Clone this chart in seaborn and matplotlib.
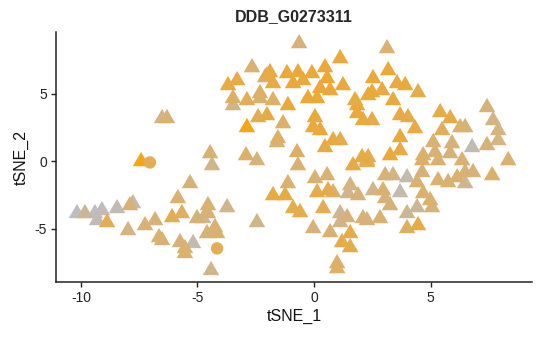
import numpy as np
import pandas as pd
import matplotlib
matplotlib.use("Agg")
import matplotlib.pyplot as plt
import seaborn as sns
from matplotlib.colors import LinearSegmentedColormap

# ---- data ----
tsne1 = [
    -10.17, -9.83, -9.40, -9.10, -9.31, -8.88, -8.45, -7.90, -7.77, -7.98,
    -7.25, -6.82, -6.65, -6.52, -6.09, -5.67, -5.84, -5.32, -5.02, -4.76,
    -4.55, -4.55, -4.59, -4.25, -4.16, -5.75, -5.54, -5.54, -5.19, -3.73,
    -4.42, -2.45, -7.42, -6.52, -6.31, -4.46, -4.38,
    -2.66, -3.69, -3.30, -3.48, -3.48, -2.88, -2.32, -2.32, -2.02, -1.89,
    -2.40, -2.02, -2.88, -2.92, -2.45, -1.76, -1.76, -2.10, -1.33, -1.59,
    -0.64, -1.16, -0.69, -0.09, 0.47, -0.90, -0.47, 0.56, 0.69, 1.24,
    0.26, -1.12, -0.26, 0.13, 1.12, 3.13, 1.76, 1.85, 2.32, 0.04,
    -0.04, 0.26, 1.85, 2.10, -1.55, 0.82, 1.12, 0.47, -0.73, -0.69,
    1.67, 2.06, 2.32, 3.18, 2.53, 2.49, 2.92, 3.56, 3.91, 4.46,
    3.39, 3.69, 4.03, 4.33, 3.69, 2.49, 3.26, 3.69, 2.27,
    5.41, 5.84, 5.49, 6.27, 6.48, 7.42, 7.68, 7.90, 7.90, 7.42,
    6.78, 5.92, 5.11, 4.68, 5.19, 5.84, 4.64, 5.32, 6.35, 6.48,
    6.82, 6.14, 5.32, 5.75, 6.48, 8.33, 7.64, 3.05, 3.39, 3.99,
    4.42, 4.64, 2.53, 2.96, 3.69, 3.05, 4.68, 4.98, 3.26, 4.42,
    5.06, 3.99, 4.46, 3.99, 2.83, 2.27, 2.27,
    -1.12, -1.76, -1.24, -0.90, -0.60, 0.04, 0.56, 0.13, 0.60, 0.82,
    0.39, -0.04, 0.69, 1.12, 1.12, 1.55, 1.46, 1.89, 2.10, 1.42,
    1.55, 1.20, 1.55, 0.99, 0.99,
]
tsne2 = [
    -3.85, -3.85, -3.85, -3.63, -4.37, -4.52, -3.48, -3.26, -3.11, -5.11,
    -4.74, -4.37, -5.63, -5.85, -4.15, -3.85, -2.74, -1.63, -4.22, -4.22,
    -3.26, -3.85, -5.33, -4.89, -5.33, -6.00, -6.44, -6.81, -6.07, -3.41,
    -8.07, -4.52, 0.00, 3.19, 3.19, 0.59, -0.30,
    6.96, 5.63, 6.00, 4.67, 4.15, 4.52, 5.04, 4.67, 6.37, 6.59,
    3.26, 3.41, 2.52, 0.44, 0.07, 5.78, 4.52, 6.22, 2.81, 1.41,
    8.74, 6.52, 6.59, 6.52, 6.96, 5.78, 6.00, 6.15, 5.26, 5.63,
    5.41, 4.15, 4.67, 4.67, 7.63, 8.37, 4.52, 4.15, 4.89, 3.26,
    2.52, 2.30, 3.56, 3.04, 1.70, 1.56, 1.56, 1.04, 0.67, -0.30,
    -0.30, 0.30, 0.30, 6.74, 6.15, 5.11, 5.26, 5.78, 5.63, 5.11,
    4.52, 3.41, 3.26, 2.44, 1.78, 3.04, 0.44, 0.81, 0.07,
    3.63, 3.19, 2.30, 2.52, 2.52, 4.00, 3.04, 2.30, 1.56, 1.19,
    1.04, 1.33, 1.41, 0.44, 0.67, 0.59, 0.07, 0.07, 0.07, -0.81,
    -0.81, -1.19, -1.41, -1.56, -1.63, 0.07, -1.04, -1.04, -1.04, -1.19,
    -1.56, -0.81, -2.15, -2.15, -2.30, -2.74, -2.37, -2.89, -3.26, -3.41,
    -3.41, -3.85, -4.74, -4.96, -4.22, -4.37, -0.07,
    -1.63, -2.52, -2.52, -3.48, -3.78, -1.26, -1.04, -2.30, -2.15, -2.30,
    -3.48, -4.96, -5.26, -3.85, -4.52, -1.78, -2.37, -2.52, -4.22, -4.15,
    -5.33, -6.00, -6.37, -7.56, -7.93,
]
expression = [
    0.05, 0.30, 0.05, 0.10, 0.10, 0.65, 0.10, 0.45, 0.20, 0.40,
    0.45, 0.45, 0.50, 0.45, 0.65, 0.60, 0.50, 0.45, 0.45, 0.30,
    0.50, 0.50, 0.45, 0.50, 0.50, 0.45, 0.50, 0.50, 0.15, 0.35,
    0.35, 0.35, 1.00, 0.35, 0.50, 0.50, 0.35,
    0.50, 0.75, 0.75, 0.55, 0.40, 0.65, 0.55, 0.50, 0.70, 0.75,
    0.65, 0.75, 1.00, 0.55, 0.45, 0.75, 0.55, 0.50, 0.55, 0.50,
    0.45, 0.80, 0.80, 0.80, 0.80, 0.80, 0.80, 0.85, 0.80, 0.80,
    0.80, 0.80, 0.80, 0.80, 0.80, 0.50, 0.75, 0.75, 0.80, 0.80,
    0.80, 0.80, 0.80, 0.75, 0.55, 0.75, 0.70, 0.75, 0.55, 0.50,
    0.75, 0.75, 0.70, 0.80, 0.80, 0.80, 0.75, 0.75, 0.80, 0.70,
    0.75, 0.75, 0.70, 0.75, 0.80, 0.70, 0.80, 0.75, 0.70,
    0.70, 0.75, 0.60, 0.50, 0.50, 0.45, 0.40, 0.40, 0.40, 0.45,
    0.10, 0.45, 0.50, 0.50, 0.45, 0.45, 0.55, 0.50, 0.50, 0.45,
    0.45, 0.50, 0.50, 0.50, 0.30, 0.50, 0.55, 0.45, 0.40, 0.15,
    0.50, 0.45, 0.35, 0.50, 0.15, 0.45, 0.50, 0.50, 0.45, 0.30,
    0.45, 0.30, 0.75, 0.60, 0.50, 0.45, 0.60,
    0.50, 0.75, 0.75, 0.70, 0.70, 0.50, 0.50, 0.70, 0.70, 0.55,
    0.65, 0.45, 0.50, 0.30, 0.35, 0.40, 0.35, 0.45, 0.45, 0.45,
    0.70, 0.70, 0.70, 0.55, 0.55,
]
# second group (drawn as circles)
circle_tsne1 = [-7.04, -4.16]
circle_tsne2 = [-0.07, -6.44]
circle_expression = [0.65, 0.65]

title = "DDB_G0273311"
x_ticks = [-10, -5, 0, 5]
y_ticks = [-5, 0, 5]

# ---- plotting ----
sns.set_style("white")
plt.rcParams["font.family"] = ["Liberation Sans", "DejaVu Sans"]

tri = pd.DataFrame({"tSNE_1": tsne1, "tSNE_2": tsne2, "expr": expression})
tri = tri.sort_values("expr")
circ = pd.DataFrame({"tSNE_1": circle_tsne1, "tSNE_2": circle_tsne2,
                     "expr": circle_expression})

cmap = LinearSegmentedColormap.from_list("greyorange", ["#BBBEC9", "#F7A417"])
tri_marker = [(-1, -0.577), (1, -0.577), (0, 1.155), (-1, -0.577)]

fig = plt.figure(figsize=(5.4, 3.37), dpi=100)
ax = fig.add_axes([0.1037, 0.1632, 0.8815, 0.7418])

sns.scatterplot(data=tri, x="tSNE_1", y="tSNE_2", hue="expr", palette=cmap,
                hue_norm=(0, 1), marker=tri_marker, s=190, linewidth=0,
                legend=False, ax=ax)
sns.scatterplot(data=circ, x="tSNE_1", y="tSNE_2", hue="expr", palette=cmap,
                hue_norm=(0, 1), marker="o", s=80, linewidth=0,
                legend=False, ax=ax)

ax.set_xlim(-11.07, 9.35)
ax.set_ylim(-8.93, 9.59)
ax.set_xticks(x_ticks)
ax.set_yticks(y_ticks)
ax.set_xticklabels([str(t) for t in x_ticks])
ax.set_yticklabels([str(t) for t in y_ticks])
for side in ["top", "right"]:
    ax.spines[side].set_visible(False)
for side in ["left", "bottom"]:
    ax.spines[side].set_color("#222222")
    ax.spines[side].set_linewidth(1.1)
ax.tick_params(axis="both", direction="out", length=3.5, width=1.0,
               color="#222222", labelsize=10, labelcolor="#222222", pad=3,
               left=True, bottom=True)
ax.set_xlabel("tSNE_1", fontsize=11.5, color="#111111", labelpad=3)
ax.set_ylabel("tSNE_2", fontsize=11.5, color="#111111", labelpad=4)
ax.set_title(title, fontsize=11.5, fontweight="bold", pad=8)

fig.savefig("out.png", dpi=100)
